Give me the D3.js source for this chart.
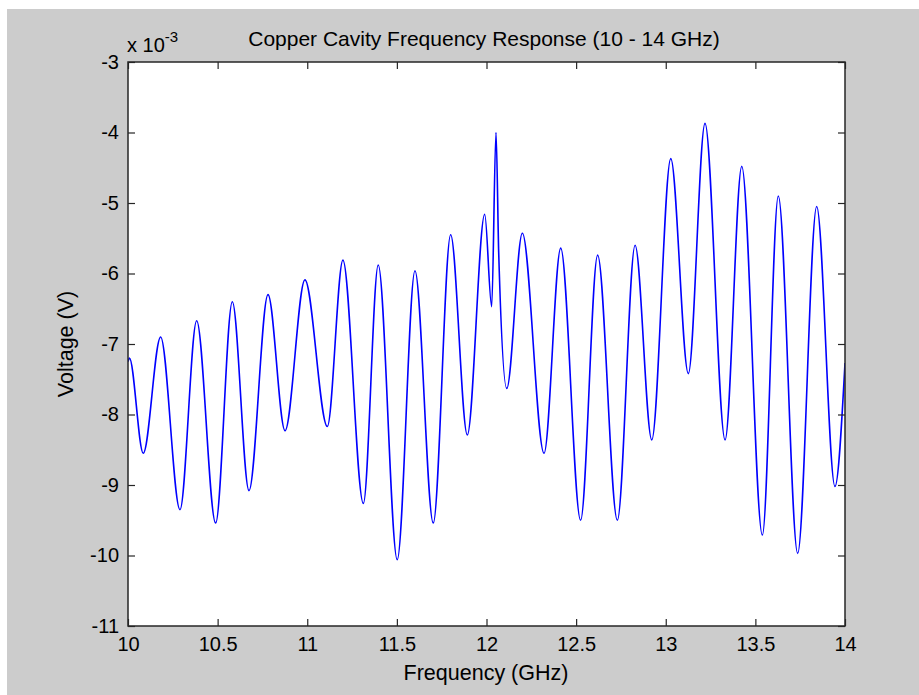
<!DOCTYPE html>
<html>
<head>
<meta charset="utf-8">
<script src="https://cdn.jsdelivr.net/npm/d3@7"></script>
<style>
  html, body { margin: 0; padding: 0; background: #ffffff; }
  svg { display: block; }
  text { font-family: "Liberation Sans", Arial, sans-serif; fill: #000; }
</style>
</head>
<body>
<svg id="chart" width="919" height="695"></svg>
<script>
// ---- data (voltage in units of 10^-3 V) ----
const title = "Copper Cavity Frequency Response (10 - 14 GHz)";
const xLabel = "Frequency (GHz)";
const yLabel = "Voltage (V)";
const xTicks = [10, 10.5, 11, 11.5, 12, 12.5, 13, 13.5, 14];
const yTicks = [-3, -4, -5, -6, -7, -8, -9, -10, -11];
const frequency = [10.0, 10.008, 10.085, 10.182, 10.29, 10.383, 10.489, 10.582, 10.675, 10.781,
  10.876, 10.987, 11.112, 11.199, 11.313, 11.396, 11.502, 11.601, 11.703, 11.80,
  11.893, 11.99, 12.029, 12.053, 12.068, 12.113, 12.20, 12.321, 12.414, 12.525,
  12.62, 12.73, 12.829, 12.922, 13.028, 13.126, 13.219, 13.331, 13.424, 13.539,
  13.628, 13.736, 13.842, 13.944, 14.0];
const voltage = [-7.25, -7.2, -8.55, -6.90, -9.35, -6.67, -9.54, -6.40, -9.08, -6.30,
  -8.23, -6.09, -8.17, -5.81, -9.26, -5.88, -10.06, -5.96, -9.54, -5.45,
  -8.29, -5.16, -6.47, -4.0, -5.7, -7.63, -5.43, -8.55, -5.64, -9.50,
  -5.74, -9.50, -5.60, -8.36, -4.37, -7.42, -3.87, -8.36, -4.48, -9.71,
  -4.90, -9.97, -5.05, -9.02, -7.27];

const svg = d3.select("#chart");
const W = 919, H = 695;
const plot = { left: 128, top: 62, right: 845, bottom: 626 };
const FS = 20;
const LFS = 21.5;

// figure background
svg.append("rect").attr("x", 7).attr("y", 9).attr("width", W - 7).attr("height", H - 9).attr("fill", "#cccccc");
svg.append("rect").attr("x", plot.left).attr("y", plot.top)
  .attr("width", plot.right - plot.left).attr("height", plot.bottom - plot.top).attr("fill", "#ffffff");

const x = d3.scaleLinear().domain([10, 14]).range([plot.left, plot.right]);
const y = d3.scaleLinear().domain([-11, -3]).range([plot.bottom, plot.top]);

const data = frequency.map((f, i) => ({ f, v: voltage[i] }));

// clip
svg.append("clipPath").attr("id", "clip").append("rect")
  .attr("x", plot.left).attr("y", plot.top)
  .attr("width", plot.right - plot.left).attr("height", plot.bottom - plot.top);

const line = d3.line().x(d => x(d.f)).y(d => y(d.v)).curve(d3.curveMonotoneX);
svg.append("path").datum(data).attr("clip-path", "url(#clip)")
  .attr("d", line).attr("fill", "none").attr("stroke", "#0000ff").attr("stroke-width", 1.6);

// axes (ticks inward on all four sides)
const tickLen = 7;
const fmt = d => String(d);  // plain hyphen-minus like the original
const axStyle = g => {
  g.select(".domain").remove();
  g.selectAll(".tick line").attr("stroke", "#262626").attr("stroke-width", 1.2);
  g.selectAll(".tick text").attr("font-size", FS).attr("fill", "#000")
    .attr("font-family", "Liberation Sans, Arial, sans-serif");
};
svg.append("g").attr("transform", `translate(0,${plot.bottom})`)
  .call(d3.axisBottom(x).tickValues(xTicks).tickFormat(fmt).tickSizeInner(-tickLen).tickPadding(11))
  .call(axStyle);
svg.append("g").attr("transform", `translate(0,${plot.top})`)
  .call(d3.axisTop(x).tickValues(xTicks).tickFormat("").tickSizeInner(-tickLen))
  .call(axStyle);
svg.append("g").attr("transform", `translate(${plot.left},0)`)
  .call(d3.axisLeft(y).tickValues(yTicks).tickFormat(fmt).tickSizeInner(-tickLen).tickPadding(9))
  .call(axStyle);
svg.append("g").attr("transform", `translate(${plot.right},0)`)
  .call(d3.axisRight(y).tickValues(yTicks).tickFormat("").tickSizeInner(-tickLen))
  .call(axStyle);

// box
svg.append("rect").attr("x", plot.left).attr("y", plot.top)
  .attr("width", plot.right - plot.left).attr("height", plot.bottom - plot.top)
  .attr("fill", "none").attr("stroke", "#262626").attr("stroke-width", 1.5);

// title & labels
svg.append("text").attr("x", 484).attr("y", 46)
  .attr("text-anchor", "middle").attr("font-size", 21).text(title);
svg.append("text").attr("x", 486).attr("y", 680)
  .attr("text-anchor", "middle").attr("font-size", LFS).text(xLabel);
svg.append("text").attr("transform", `translate(73,${(plot.top + plot.bottom) / 2}) rotate(-90)`)
  .attr("text-anchor", "middle").attr("font-size", LFS).text(yLabel);

// exponent label
const ex = svg.append("text").attr("x", 127).attr("y", 52).attr("font-size", FS);
ex.append("tspan").text("x 10");
ex.append("tspan").attr("dy", -10).attr("font-size", 15).text("-3");
</script>
</body>
</html>
